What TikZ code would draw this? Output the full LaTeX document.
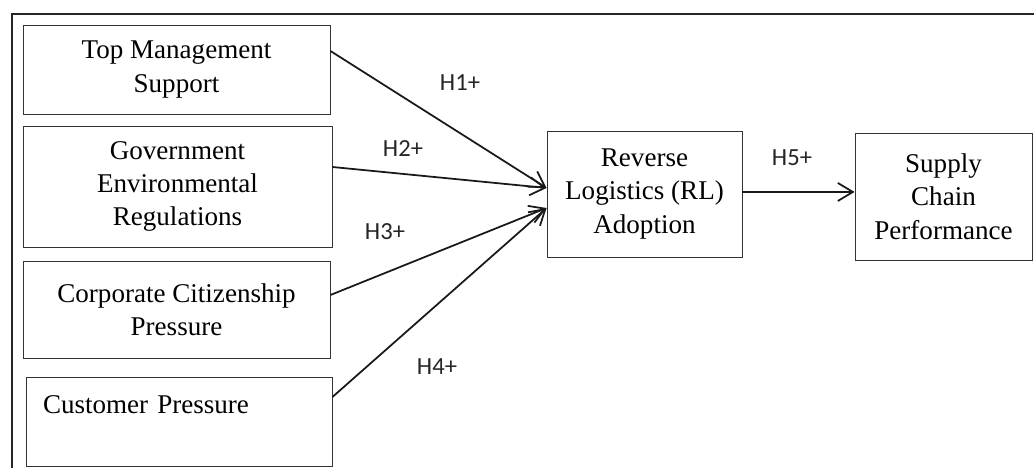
\documentclass[tikz,border=0pt]{standalone}
\usepackage{fontspec}
\setmainfont{Liberation Serif}
\newfontfamily\hlabelfont{Carlito}
\usetikzlibrary{arrows.meta,positioning,calc}

\tikzset{
  construct/.style={rectangle, draw=black!80, line width=0.5pt, align=center, inner sep=2pt, font=\fontsize{15.4}{19}\selectfont},
  hyp/.style={draw=black!90, line width=1pt, -{Straight Barb[length=0.3cm, width=0.36cm, line width=1pt]}},
  hlabel/.style={font=\hlabelfont\fontsize{14}{16}\selectfont, text=black!85}
}

\begin{document}
\begin{tikzpicture}
\useasboundingbox (0,0) rectangle (20.68,9.36);
% frame
\draw[line width=1.3pt, black!85] (0.24,-0.5) -- (0.24,9.08) -- (21.2,9.08);

% antecedents
\node[construct, minimum width=6.14cm, minimum height=1.78cm] (tms) at (3.53,7.97) {Top Management\\Support};
\node[construct, minimum width=6.18cm, minimum height=2.42cm] (ger) at (3.55,5.63) {Government\\Environmental\\Regulations};
\node[construct, minimum width=6.14cm, minimum height=1.94cm] (ccp) at (3.53,3.17) {Corporate Citizenship\\Pressure};
\node[construct, align=left, text width=5.44cm, inner xsep=0.34cm, minimum height=1.78cm] (cup) at (3.58,0.93) {Customer Pressure\\~};

% outcome constructs
\node[construct, minimum width=3.9cm, minimum height=2.52cm] (rla) at (12.89,5.48) {Reverse\\Logistics (RL)\\Adoption};
\node[construct, minimum width=3.54cm, minimum height=2.54cm] (scp) at (18.87,5.43) {Supply\\Chain\\Performance};

% hypotheses
\draw[hyp] ([yshift=0.37cm]tms.east) -- ([yshift=0.12cm]rla.west);
\draw[hyp] ([yshift=0.39cm]ger.east) -- ([yshift=0.12cm]rla.west);
\draw[hyp] ([yshift=0.29cm]ccp.east) -- ([yshift=-0.28cm]rla.west);
\draw[hyp] ([yshift=0.49cm]cup.east) -- ([yshift=-0.28cm]rla.west);
\draw[hyp] ([yshift=0.04cm]rla.east) -- ([yshift=0.04cm]rla.east -| scp.west);

\node[hlabel] (h1) at (9.2,7.7) {H1+};
\node[hlabel] (h2) at (8.06,6.38) {H2+};
\node[hlabel] (h3) at (7.7,4.72) {H3+};
\node[hlabel] (h4) at (8.74,2.02) {H4+};
\node[hlabel] (h5) at (15.84,6.2) {H5+};
\end{tikzpicture}
\end{document}
